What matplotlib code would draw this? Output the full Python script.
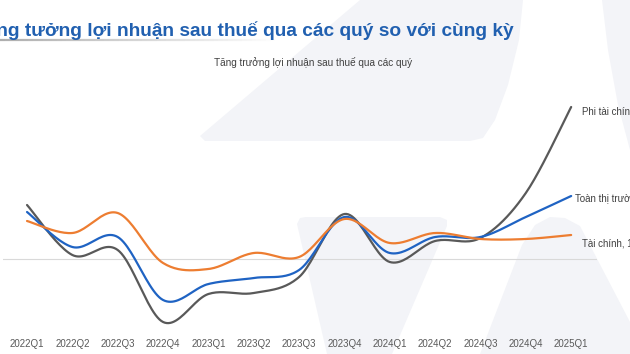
import numpy as np
import matplotlib
matplotlib.use("Agg")
import matplotlib.pyplot as plt
from matplotlib.patches import Polygon
from matplotlib.collections import LineCollection

plt.rcParams['font.family'] = ['Liberation Sans', 'DejaVu Sans']

# quarters on the x axis
quarters = ["2022Q1", "2022Q2", "2022Q3", "2022Q4", "2023Q1", "2023Q2", "2023Q3",
            "2023Q4", "2024Q1", "2024Q2", "2024Q3", "2024Q4", "2025Q1"]

# profit growth (%)
phi_tai_chinh = [43.2, 3.2, 7.2, -50.4, -28.0, -27.2, -14.4, 36.0, -2.4, 14.4, 16.8, 52.8, 121.6]
toan_thi_truong = [37.6, 9.6, 17.6, -32.8, -20.0, -15.2, -8.8, 33.6, 4.8, 17.6, 17.6, 33.6, 50.4]
tai_chinh = [30.4, 20.8, 36.8, -3.2, -8.0, 4.8, 1.6, 32.0, 12.8, 20.8, 16.0, 16.0, 19.2]

series_names = ["Phi tài chính", "Toàn thị trường", "Tài chính"]
series_colors = ["#595959", "#1f63c3", "#ed7d31"]

W, H = 630, 354


def px(x, y):
    # pixel coords (y from top) -> figure fraction
    return (x / W, 1 - y / H)


def smooth(xs, ys, n=24):
    # Catmull-Rom style smoothing like office chart "smoothed line"
    xs = np.asarray(xs, float)
    ys = np.asarray(ys, float)
    px_, py_ = [], []
    for i in range(len(xs) - 1):
        x0, y0 = (xs[i - 1], ys[i - 1]) if i > 0 else (xs[i], ys[i])
        x1, y1 = xs[i], ys[i]
        x2, y2 = xs[i + 1], ys[i + 1]
        x3, y3 = (xs[i + 2], ys[i + 2]) if i + 2 < len(xs) else (x2, y2)
        c1x, c1y = x1 + (x2 - x0) / 6, y1 + (y2 - y0) / 6
        c2x, c2y = x2 - (x3 - x1) / 6, y2 - (y3 - y1) / 6
        t = np.linspace(0, 1, n, endpoint=(i == len(xs) - 2))
        b0, b1, b2, b3 = (1 - t) ** 3, 3 * t * (1 - t) ** 2, 3 * t ** 2 * (1 - t), t ** 3
        px_.append(b0 * x1 + b1 * c1x + b2 * c2x + b3 * x2)
        py_.append(b0 * y1 + b1 * c1y + b2 * c2y + b3 * y2)
    return np.concatenate(px_), np.concatenate(py_)


fig = plt.figure(figsize=(6.3, 3.54), dpi=100)
fig.patch.set_facecolor("white")

# light watermark shapes in the background
shade = "#f3f4f8"
shapes = [
    [(360, 0), (523, 0), (519, 40), (508, 85), (495, 120), (483, 138), (470, 141),
     (205, 141), (200, 136)],
    [(602, 0), (630, 0), (630, 150), (618, 105), (608, 50)],
    [(297, 224), (300, 218), (306, 217), (440, 217), (447, 220), (447, 226), (392, 354), (327, 354)],
    [(480, 354), (522, 245), (535, 225), (550, 217), (565, 218), (580, 226), (630, 322), (630, 354)],
]
for pts in shapes:
    fig.patches.append(Polygon([px(*p) for p in pts], closed=True, transform=fig.transFigure,
                               facecolor=shade, edgecolor="none", zorder=-5))

# title (cut at the left edge like the slide)
fig.text(*px(-26, 31), "Tăng tưởng lợi nhuận sau thuế qua các quý so với cùng kỳ",
         fontsize=13.8, fontweight="bold", color="#2160b0", va="center", ha="left")

# fading underline under the title
xs_line = np.linspace(0, 280, 60)
segs = [[px(xs_line[i], 40), px(xs_line[i + 1], 40)] for i in range(len(xs_line) - 1)]
alphas = np.linspace(0.7, 0.0, len(segs))
lc = LineCollection(segs, colors=[(0.55, 0.55, 0.55, a) for a in alphas], linewidths=1.6,
                    transform=fig.transFigure)
fig.add_artist(lc)

fig.text(*px(313, 62), "Tăng trưởng lợi nhuận sau thuế qua các quý",
         fontsize=7.2, color="#404040", ha="center", va="center")

ax = fig.add_axes([3 / W, 1 - 330 / H, 594 / W, 240 / H])
ax.set_zorder(1)
ax.patch.set_alpha(0)
for s in ax.spines.values():
    s.set_visible(False)

x = np.arange(len(quarters))
data = [phi_tai_chinh, toan_thi_truong, tai_chinh]
for vals, col in zip(data, series_colors):
    sx, sy = smooth(x, vals)
    ax.plot(sx, sy, color=col, lw=1.6, solid_capstyle="round", zorder=3)

ax.axhline(0, color="#d9d9d9", lw=0.8, zorder=1)
ax.set_xlim(-0.53, 12.57)
ax.set_ylim(-56.8, 135.2)
ax.set_yticks([])
ax.set_xticks(x)
ax.set_xticklabels(quarters)
ax.tick_params(axis="x", length=0, pad=6.5, labelsize=7, labelcolor="#595959")

# end labels (cut by the right edge like the slide)
offsets = [(11, -5), (4, -3), (11, -9)]
for name, vals, off in zip(series_names, data, offsets):
    ax.annotate(f"{name}, {vals[-1]:.0f}%", (x[-1], vals[-1]), xytext=off,
                textcoords="offset pixels", fontsize=7, color="#404040",
                ha="left", va="center", annotation_clip=False)

fig.savefig("out.png", dpi=100)
